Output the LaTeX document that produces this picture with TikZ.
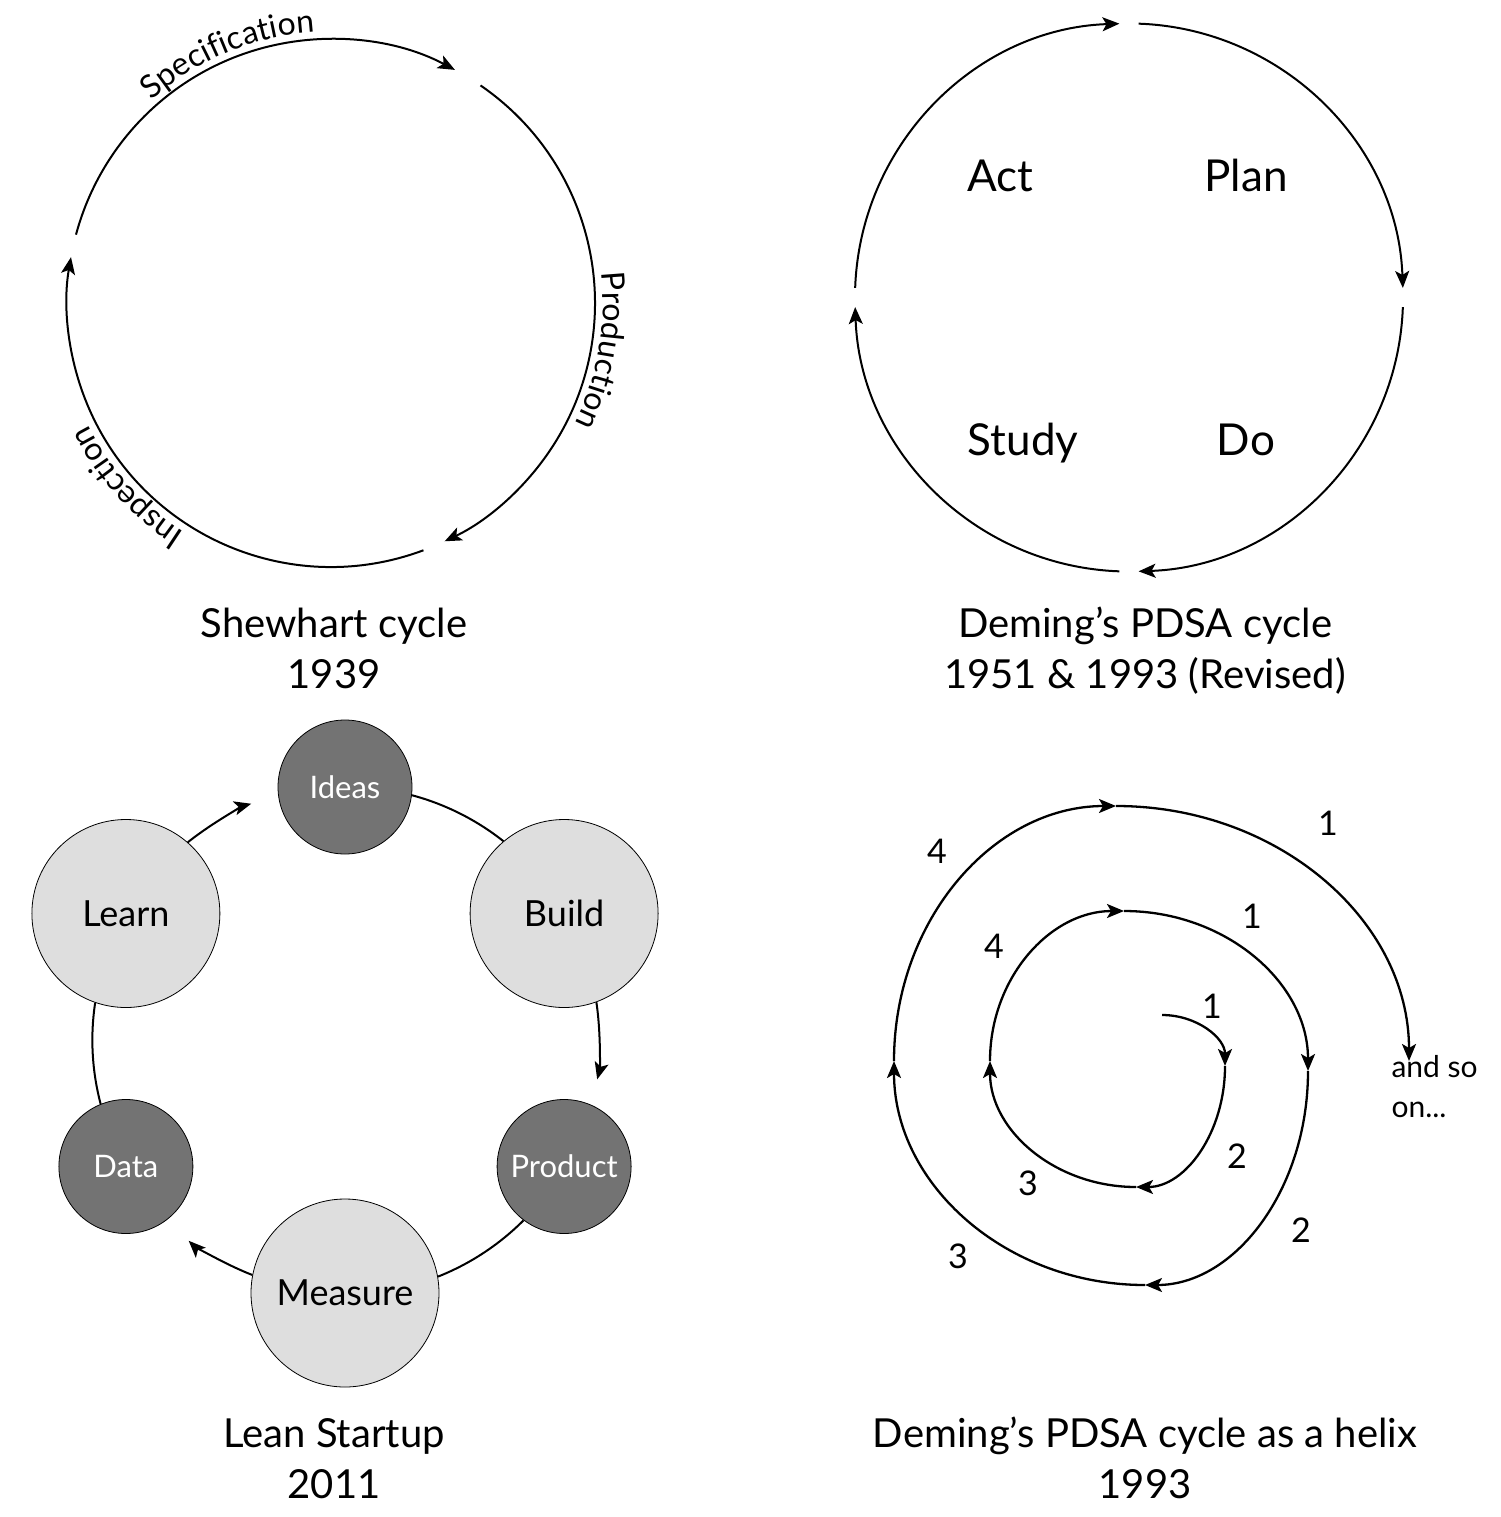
\documentclass[tikz,border=0pt]{standalone}
\usepackage{fontspec}
\setmainfont{Lato}
\usetikzlibrary{arrows.meta,positioning,calc,decorations.text}

\definecolor{bubblelight}{HTML}{DEDEDE}
\definecolor{bubbledark}{HTML}{737373}
\newcommand{\sizept}[2]{\fontsize{#1}{#2}\selectfont}

\begin{document}
\begin{tikzpicture}[
    x=1pt, y=1pt,
    >={Stealth[length=17pt,width=14pt,inset=4pt]},
    cycle line/.style={line width=2pt},
    title/.style={align=center, anchor=base, font=\sizept{40}{51}},
    pdsa word/.style={anchor=base, font=\sizept{44}{44}},
    big bubble/.style={circle, draw=black, line width=0.8pt, fill=bubblelight, minimum size=188pt, inner sep=0pt, font=\sizept{36}{36}},
    small bubble/.style={circle, draw=black, line width=0.8pt, fill=bubbledark, text=white, minimum size=134pt, inner sep=0pt, font=\sizept{31}{31}},
    lean link/.style={line width=2pt, bend left=11.7, looseness=0.86},
    helix line/.style={line width=2.3pt},
    turn label/.style={font=\sizept{34}{34}},
]
\useasboundingbox (0,0) rectangle (1500,-1517);

% Shewhart cycle
\coordinate (shew) at (331,-303);
\draw[cycle line,->] ($(shew)+(165:264)$) arc[start angle=165, end angle=62, radius=264];
\draw[cycle line,->] ($(shew)+(55.5:264)$) arc[start angle=55.5, end angle=-64.5, radius=264];
\draw[cycle line,->] ($(shew)+(-69.5:264)$) arc[start angle=-69.5, end angle=-190, radius=264];
\path[decorate, decoration={text along path, text align=center, text={|\sizept{32}{32}|Specification}}]
    ($(shew)+(150:271)$) arc[start angle=150, end angle=75, radius=271];
\path[decorate, decoration={text along path, text align=center, text={|\sizept{32}{32}|Production}}]
    ($(shew)+(25:272)$) arc[start angle=25, end angle=-45, radius=272];
\path[decorate, decoration={text along path, text align=center, text={|\sizept{32}{32}|Inspection}}]
    ($(shew)+(-100:272)$) arc[start angle=-100, end angle=-176, radius=272];
\node[title] (shewtitle) at (334,-688) {Shewhart cycle\\1939};

% Deming PDSA cycle
\coordinate (pdsa) at (1129,-297.5);
\foreach \a in {178,88,-2,-92}
    \draw[cycle line,->] ($(pdsa)+(\a:274)$) arc[start angle=\a, delta angle=-86, radius=274];
\node[pdsa word] (act) at (1000,-192) {Act};
\node[pdsa word] (plan) at (1246,-192) {Plan};
\node[pdsa word] (study) at (1023,-455) {Study};
\node[pdsa word] (do) at (1246,-455) {Do};
\node[title] (pdsatitle) at (1145,-688) {Deming’s PDSA cycle\\1951 \& 1993 (Revised)};

% Lean Startup
\coordinate (hub) at (345,-1040);
\node[small bubble] (ideas) at ($(hub)+(90:253)$) {Ideas};
\node[big bubble] (build) at ($(hub)+(30:253)$) {Build};
\node[small bubble] (product) at ($(hub)+(-30:253)$) {Product};
\node[big bubble] (measure) at ($(hub)+(-90:253)$) {Measure};
\node[small bubble] (data) at ($(hub)+(-150:253)$) {Data};
\node[big bubble] (learn) at ($(hub)+(150:253)$) {Learn};
\draw[lean link] (ideas.-7.6) to (build.130.7);
\draw[lean link,->,shorten >=26pt] (build.-70.7) to (product.67.6);
\draw[lean link] (product.-127.6) to (measure.10.7);
\draw[lean link,->,shorten >=30pt] (measure.169.3) to (data.-52.4);
\draw[lean link] (data.112.4) to (learn.-109.3);
\draw[lean link,->,shorten >=28pt] (learn.49.3) to (ideas.-172.4);
\node[title] (leantitle) at (334,-1498) {Lean Startup\\2011};

% PDSA helix
\foreach \sx/\sy/\a/\rx/\ry in {1162/-1015/90/63/51, 1225/-1066/0/89/121,
        1136/-1187/-90/146/126, 990/-1061/180/134/150, 1124/-911/90/184/160,
        1308/-1071/0/163/214, 1145/-1285/-90/251/224, 894/-1061/180/222/255,
        1116/-806/90/293/255}
    \draw[helix line,->] (\sx,\sy) arc[start angle=\a, delta angle=-90, x radius=\rx, y radius=\ry];
\node[turn label] (in1) at (1212,-1006) {1};
\node[turn label] (in2) at (1237,-1156) {2};
\node[turn label] (in3) at (1028,-1183) {3};
\node[turn label] (in4) at (994,-946) {4};
\node[turn label] (mid1) at (1252,-916) {1};
\node[turn label] (mid2) at (1301,-1230) {2};
\node[turn label] (out3) at (958,-1256) {3};
\node[turn label] (out4) at (937,-851) {4};
\node[turn label] (out1) at (1328,-823) {1};
\node[align=left, anchor=base west, font=\sizept{30}{40}] (andso) at (1388,-1117) {and so\\on...};
\node[title] (helixtitle) at (1145,-1498) {Deming’s PDSA cycle as a helix\\1993};

\end{tikzpicture}
\end{document}
